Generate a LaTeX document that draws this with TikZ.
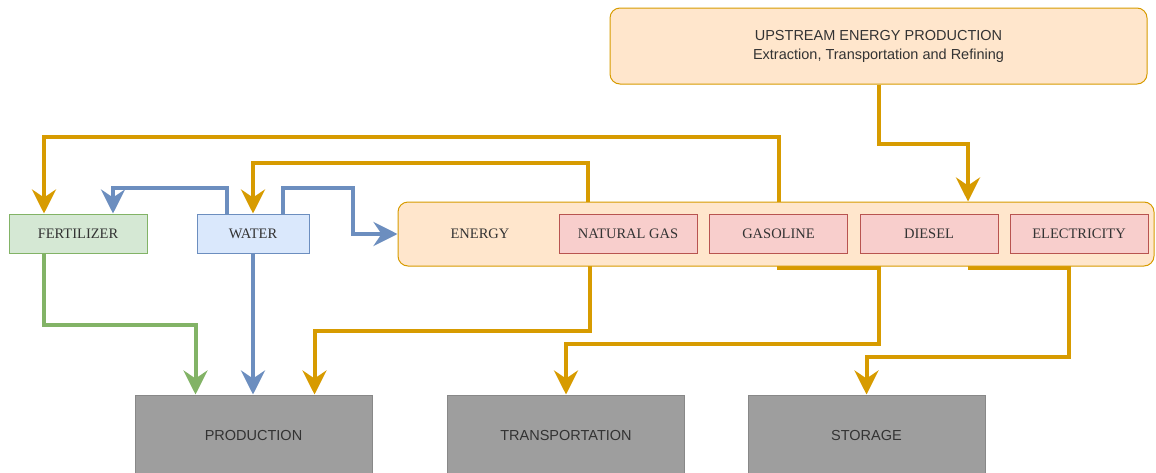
\documentclass[tikz,border=0pt]{standalone}
\usepackage{fontspec}
\setmainfont{Liberation Serif}
\newfontfamily\arialfont{Liberation Sans}
\usetikzlibrary{arrows.meta,backgrounds}
\definecolor{orline}{HTML}{D79B00}
\definecolor{blline}{HTML}{6C8EBF}
\definecolor{grline}{HTML}{82B366}
\definecolor{peach}{HTML}{FFE6CC}
\definecolor{pinkfill}{HTML}{F8CECC}
\definecolor{pinkline}{HTML}{B85450}
\definecolor{greenfill}{HTML}{D5E8D4}
\definecolor{bluefill}{HTML}{DAE8FC}
\definecolor{grayfill}{HTML}{9E9E9E}
\definecolor{grayline}{HTML}{888888}
\definecolor{txt}{HTML}{333333}
\begin{document}
\begin{tikzpicture}[x=1pt,y=-1pt,
  serifbox/.style={draw, line width=1pt, inner sep=0pt, minimum height=39pt,
    text=txt, font=\fontsize{14.5}{17}\selectfont},
  fuelbox/.style={serifbox, fill=pinkfill, draw=pinkline, minimum width=138pt},
  peachbox/.style={draw=orline, fill=peach, line width=1pt, rounded corners=10pt, inner sep=0pt},
  graybox/.style={draw=grayline, fill=grayfill, line width=1pt, inner sep=0pt,
    minimum width=237pt, minimum height=80pt, text=txt,
    font=\arialfont\fontsize{14.5}{17}\selectfont},
  tipstyle/.style={-{Stealth[length=24pt,width=24pt,inset=8pt]}},
  oline/.style={draw=orline, line width=4pt, tipstyle},
  bline/.style={draw=blline, line width=4pt, tipstyle},
  gline/.style={draw=grline, line width=4pt, tipstyle},
  ]
\useasboundingbox (0,0) rectangle (1156,472);
\clip (0,0) rectangle (1156,472);

% nodes
\node[peachbox, minimum width=537pt, minimum height=76pt, align=center,
  text=txt, font=\arialfont\fontsize{14.5}{19}\selectfont] (up) at (878.5,46)
  {UPSTREAM ENERGY PRODUCTION\\Extraction, Transportation and Refining};
\node[peachbox, minimum width=756pt, minimum height=64pt] (energy) at (776,234) {};
\node[text=txt, font=\fontsize{14.5}{17}\selectfont, inner sep=0pt] (energylabel) at (480,234) {ENERGY};
\node[fuelbox] (ng) at (628,233.5) {NATURAL GAS};
\node[fuelbox] (gas) at (778.5,233.5) {GASOLINE};
\node[fuelbox] (dsl) at (929,233.5) {DIESEL};
\node[fuelbox] (elec) at (1079,233.5) {ELECTRICITY};
\node[serifbox, fill=greenfill, draw=grline, minimum width=138pt] (fert) at (78,233.5) {FERTILIZER};
\node[serifbox, fill=bluefill, draw=blline, minimum width=112pt] (water) at (253,233.5) {WATER};
\node[graybox] (prod) at (253.5,435) {PRODUCTION};
\node[graybox] (trans) at (566,435) {TRANSPORTATION};
\node[graybox] (stor) at (866.5,435) {STORAGE};

% connectors hidden behind the energy container
\begin{pgfonlayer}{background}
\draw[oline] (gas.north) -- ++(0,-77) -| ([xshift=-34pt]fert.north);
\draw[oline] ([xshift=-40pt]ng.north) -- ++(0,-51) -| (water.north);
\draw[oline] ([xshift=-38pt]ng.south) -- ++(0,77) -| ([xshift=61pt]prod.north);
\draw[oline] (gas.south) -- ++(0,14) -- ++(100,0) -- ++(0,76) -| (trans.north);
\draw[oline] ([xshift=41pt]dsl.south) -- ++(0,14) -- ++(99,0) -- ++(0,89) -| (stor.north);
\end{pgfonlayer}

% other connectors
\draw[oline] (up.south) -- ++(0,59) -| ([xshift=192pt]energy.north);
\draw[bline] ([xshift=-26pt]water.north) -- ++(0,-26) -| ([xshift=35pt]fert.north);
\draw[bline] ([xshift=30pt]water.north) -- ++(0,-26) -- ++(70,0) |- (energy.west);
\draw[gline] ([xshift=-34pt]fert.south) -- ++(0,71) -| ([xshift=-58pt]prod.north);
\draw[bline] (water.south) -- (water.south |- prod.north);
\end{tikzpicture}
\end{document}
